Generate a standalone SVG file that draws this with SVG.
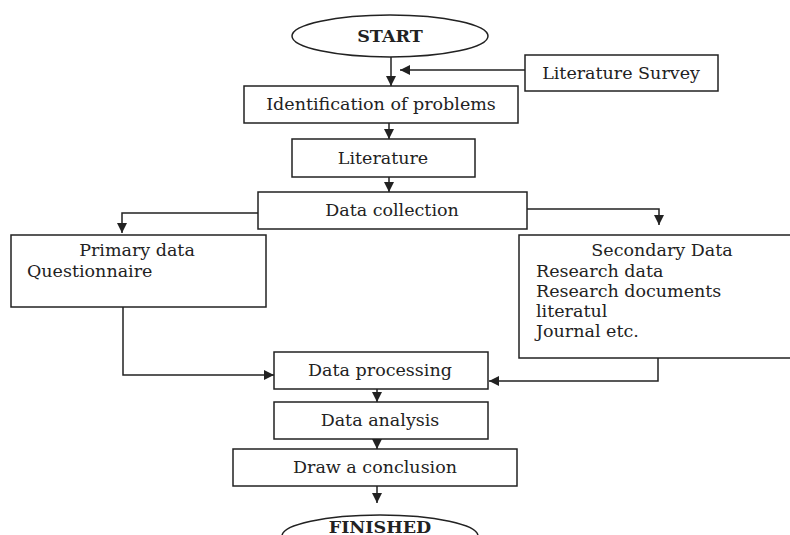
<svg xmlns="http://www.w3.org/2000/svg" width="790" height="535" viewBox="0 0 790 535">
<style>
.box{fill:#fff;stroke:#222;stroke-width:1.5}
.t{font-family:"DejaVu Serif","Liberation Serif",serif;font-size:17.5px;fill:#222}
.c{text-anchor:middle}
.b{font-weight:bold}
.ln{fill:none;stroke:#222;stroke-width:1.5}
</style>
<defs>
<marker id="ah" viewBox="0 0 10 10" refX="10" refY="5" markerWidth="10" markerHeight="10" markerUnits="userSpaceOnUse" orient="auto">
<path d="M0,0 L10,5 L0,10 z" fill="#222"/>
</marker>
</defs>
<rect width="790" height="535" fill="#fff"/>
<g id="connectors">
<path class="ln" d="M391,57 V86" marker-end="url(#ah)"/>
<path class="ln" d="M525,70 H400" marker-end="url(#ah)"/>
<path class="ln" d="M389,123 V139" marker-end="url(#ah)"/>
<path class="ln" d="M389,177 V192" marker-end="url(#ah)"/>
<path class="ln" d="M258,213 H122 V233" marker-end="url(#ah)"/>
<path class="ln" d="M527,209 H659 V225" marker-end="url(#ah)"/>
<path class="ln" d="M123,307 V375 H274" marker-end="url(#ah)"/>
<path class="ln" d="M658,358 V381 H489" marker-end="url(#ah)"/>
<path class="ln" d="M377,389 V402" marker-end="url(#ah)"/>
<path class="ln" d="M377,439 V449" marker-end="url(#ah)"/>
<path class="ln" d="M377,486 V503" marker-end="url(#ah)"/>
</g>
<g id="start">
<ellipse class="box" cx="390" cy="36" rx="98" ry="21"/>
<text class="t c b" x="390" y="42">START</text>
</g>
<g id="literature-survey">
<rect class="box" x="525" y="55" width="193" height="36"/>
<text class="t c" x="621" y="79">Literature Survey</text>
</g>
<g id="identification">
<rect class="box" x="244" y="86" width="274" height="37"/>
<text class="t c" x="381" y="110">Identification of problems</text>
</g>
<g id="literature">
<rect class="box" x="292" y="139" width="183" height="38"/>
<text class="t c" x="383" y="164">Literature</text>
</g>
<g id="data-collection">
<rect class="box" x="258" y="192" width="269" height="37"/>
<text class="t c" x="392" y="216">Data collection</text>
</g>
<g id="primary-data">
<rect class="box" x="11" y="235" width="255" height="72"/>
<text class="t c" x="137" y="256">Primary data</text>
<text class="t" x="27" y="277">Questionnaire</text>
</g>
<g id="secondary-data">
<rect class="box" x="519" y="235" width="280" height="123"/>
<text class="t c" x="662" y="256">Secondary Data</text>
<text class="t" x="536" y="277">Research data</text>
<text class="t" x="536" y="297">Research documents</text>
<text class="t" x="536" y="317">literatul</text>
<text class="t" x="536" y="337">Journal etc.</text>
</g>
<g id="data-processing">
<rect class="box" x="274" y="352" width="214" height="37"/>
<text class="t c" x="380" y="376">Data processing</text>
</g>
<g id="data-analysis">
<rect class="box" x="274" y="402" width="214" height="37"/>
<text class="t c" x="380" y="426">Data analysis</text>
</g>
<g id="conclusion">
<rect class="box" x="233" y="449" width="284" height="37"/>
<text class="t c" x="375" y="473">Draw a conclusion</text>
</g>
<g id="finished">
<ellipse class="box" cx="380" cy="536" rx="98" ry="21"/>
<text class="t c b" x="380" y="533">FINISHED</text>
</g>
</svg>
